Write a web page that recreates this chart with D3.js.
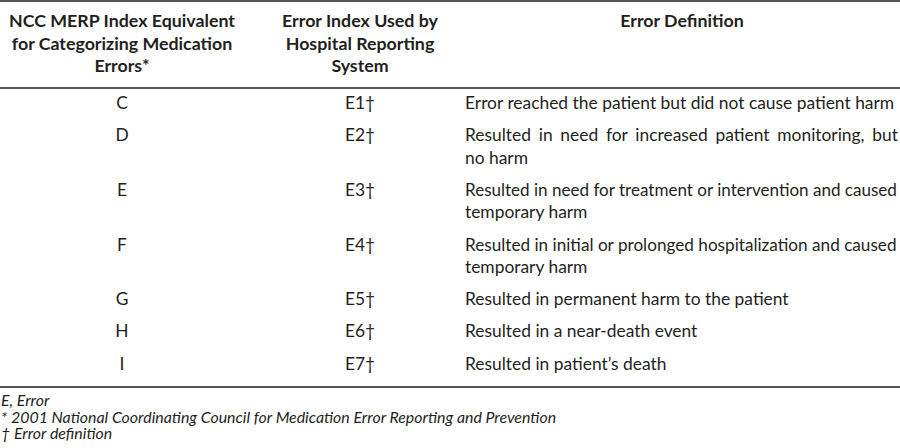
<!DOCTYPE html>
<html>
<head>
<meta charset="utf-8">
<script src="https://cdn.jsdelivr.net/npm/d3@7"></script>
<style>
  body { margin: 0; background: #fff; }
  svg { display: block; }
</style>
</head>
<body>
<script>
// table content
const headers = [
  ['NCC MERP Index Equivalent', 'for Categorizing Medication', 'Errors*'],
  ['Error Index Used by', 'Hospital Reporting', 'System'],
  ['Error Definition']
];
const merpCodes = ['C', 'D', 'E', 'F', 'G', 'H', 'I'];
const errorIndex = ['E1\u2020', 'E2\u2020', 'E3\u2020', 'E4\u2020', 'E5\u2020', 'E6\u2020', 'E7\u2020'];
const definitions = [
  ['Error reached the patient but did not cause patient harm'],
  ['Resulted in need for increased patient monitoring, but', 'no harm'],
  ['Resulted in need for treatment or intervention and caused', 'temporary harm'],
  ['Resulted in initial or prolonged hospitalization and caused', 'temporary harm'],
  ['Resulted in permanent harm to the patient'],
  ['Resulted in a near-death event'],
  ['Resulted in patient\u2019s death']
];
const footnotes = [
  'E, Error',
  '* 2001 National Coordinating Council for Medication Error Reporting and Prevention',
  '\u2020 Error definition'
];

const width = 900, height = 448;
const font = 'Lato, "Open Sans", sans-serif';
const ink = '#231f20', rule = '#555';
const bodySize = 17.4;

const svg = d3.select('body').append('svg')
  .attr('width', width)
  .attr('height', height);

// column layout
const colCenter = [122, 360, 682];
const defLeft = 465, defRight = 898;

// row positions: each row is lineH per line plus padding
const lineH = 22.3, rowPad = 10;
const rowH = definitions.map(d => d.length * lineH + rowPad);
const rowStart = [0, ...d3.cumsum(rowH)];
const y = d3.scaleLinear().domain([0, 1]).range([109, 110]);

// rules
svg.selectAll('.rule')
  .data([1, 88, 387])
  .enter().append('line')
  .attr('x1', 0).attr('x2', width)
  .attr('y1', d => d).attr('y2', d => d)
  .attr('stroke', rule)
  .attr('stroke-width', 2);

// header
headers.forEach((lines, c) => {
  svg.append('g').selectAll('text')
    .data(lines)
    .enter().append('text')
    .attr('x', colCenter[c])
    .attr('y', (d, i) => 27 + i * 22.5)
    .attr('text-anchor', 'middle')
    .style('font-family', font)
    .style('font-weight', 'bold')
    .style('font-size', '17.8px')
    .attr('fill', ink)
    .text(d => d);
});

const body = svg.append('g')
  .style('font-family', font)
  .style('font-size', bodySize + 'px')
  .attr('fill', ink);

body.selectAll('.code')
  .data(merpCodes)
  .enter().append('text')
  .attr('class', 'code')
  .attr('x', colCenter[0])
  .attr('y', (d, i) => y(rowStart[i]))
  .attr('text-anchor', 'middle')
  .text(d => d);

body.selectAll('.idx')
  .data(errorIndex)
  .enter().append('text')
  .attr('class', 'idx')
  .attr('x', colCenter[1])
  .attr('y', (d, i) => y(rowStart[i]))
  .attr('text-anchor', 'middle')
  .text(d => d);

definitions.forEach((lines, r) => {
  lines.forEach((line, k) => {
    const t = body.append('text')
      .attr('x', defLeft)
      .attr('y', y(rowStart[r] + k * lineH))
      .text(line);
    const natural = t.node().getComputedTextLength();
    const avail = defRight - defLeft;
    if (natural > avail) {
      // shrink lines that would run past the right edge
      t.style('font-size', (bodySize * avail / natural - 0.05) + 'px');
    } else if (k < lines.length - 1) {
      // justify all but the last line of a wrapped cell
      const gaps = line.split(' ').length - 1;
      t.style('word-spacing', ((avail - natural) / gaps) + 'px');
    }
  });
});

// footnotes
svg.append('g').selectAll('text')
  .data(footnotes)
  .enter().append('text')
  .attr('x', 1)
  .attr('y', (d, i) => 406 + i * 16.5)
  .style('font-family', font)
  .style('font-style', 'italic')
  .style('font-size', '15.9px')
  .attr('fill', ink)
  .text(d => d);
</script>
</body>
</html>
